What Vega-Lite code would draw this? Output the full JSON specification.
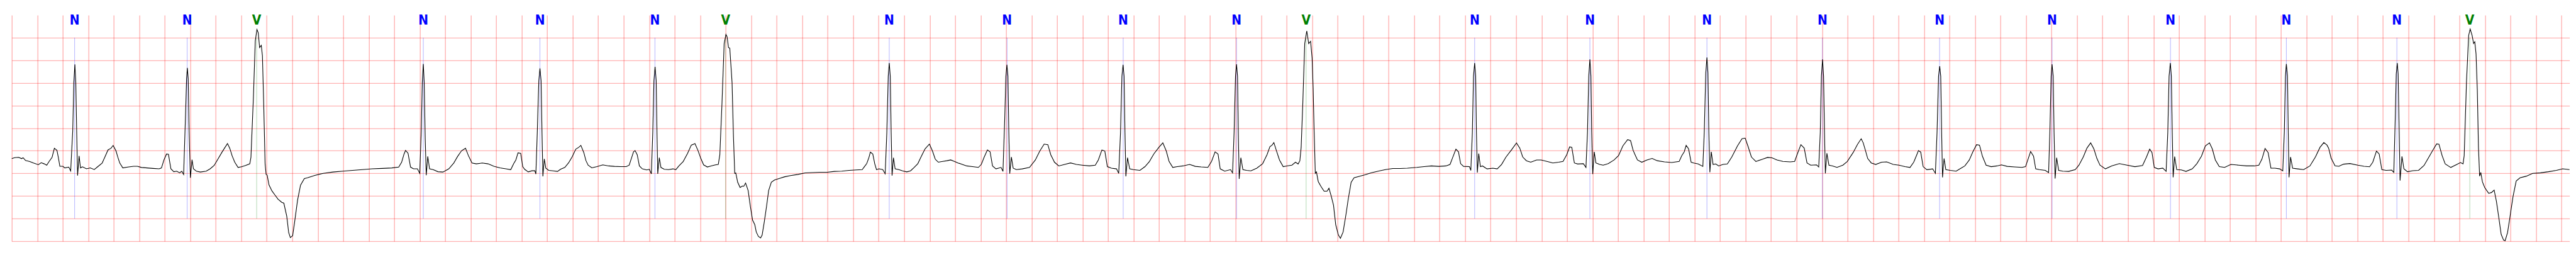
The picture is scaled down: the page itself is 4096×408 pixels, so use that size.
{
"$schema":"https://vega.github.io/schema/vega-lite/v6.json",
"width":4067,"height":359,
"autosize":"none",
"padding":{"left":18.7,"top":23.9,"right":10,"bottom":25},
"background":"white",
"config":{"view":{"stroke":null},"axis":{"title":null,"labels":false,"ticks":false,"domain":false,"grid":true,"gridColor":"#ff0000","gridOpacity":0.3,"gridWidth":1.4}},
"datasets":{
"beats":[{"t":0.493,"label":"N"},{"t":1.376,"label":"N"},{"t":1.921,"label":"V"},{"t":3.228,"label":"N"},{"t":4.143,"label":"N"},{"t":5.045,"label":"N"},{"t":5.599,"label":"V"},{"t":6.883,"label":"N"},{"t":7.807,"label":"N"},{"t":8.718,"label":"N"},{"t":9.607,"label":"N"},{"t":10.153,"label":"V"},{"t":11.475,"label":"N"},{"t":12.379,"label":"N"},{"t":13.297,"label":"N"},{"t":14.203,"label":"N"},{"t":15.122,"label":"N"},{"t":16.004,"label":"N"},{"t":16.933,"label":"N"},{"t":17.842,"label":"N"},{"t":18.709,"label":"N"},{"t":19.281,"label":"V"}],
"ecg":[
{"t":0,"v":0.326},{"t":0.023,"v":0.348},{"t":0.054,"v":0.355},{"t":0.077,"v":0.326},{"t":0.089,"v":0.344},{"t":0.108,"v":0.283},{"t":0.138,"v":0.264},{"t":0.17,"v":0.228},{"t":0.208,"v":0.192},{"t":0.231,"v":0.236},{"t":0.254,"v":0.21},{"t":0.274,"v":0.181},{"t":0.293,"v":0.264},{"t":0.316,"v":0.355},{"t":0.334,"v":0.554},{"t":0.354,"v":0.511},{"t":0.365,"v":0.355},{"t":0.377,"v":0.156},{"t":0.401,"v":0.156},{"t":0.416,"v":0.12},{"t":0.447,"v":0.138},{"t":0.462,"v":0.054},{"t":0.478,"v":0.935},{"t":0.487,"v":2.02},{"t":0.495,"v":2.41},{"t":0.502,"v":2.02},{"t":0.509,"v":0.935},{"t":0.516,"v":-0.05},{"t":0.528,"v":0.384},{"t":0.539,"v":0.12},{"t":0.554,"v":0.145},{"t":0.586,"v":0.1},{"t":0.616,"v":0.12},{"t":0.647,"v":0.083},{"t":0.678,"v":0.156},{"t":0.709,"v":0.228},{"t":0.732,"v":0.373},{"t":0.755,"v":0.518},{"t":0.778,"v":0.554},{"t":0.795,"v":0.616},{"t":0.817,"v":0.5},{"t":0.832,"v":0.355},{"t":0.847,"v":0.228},{"t":0.871,"v":0.12},{"t":0.909,"v":0.138},{"t":0.955,"v":0.156},{"t":0.986,"v":0.156},{"t":1.017,"v":0.13},{"t":1.063,"v":0.12},{"t":1.109,"v":0.109},{"t":1.156,"v":0.1},{"t":1.174,"v":0.12},{"t":1.194,"v":0.3},{"t":1.214,"v":0.428},{"t":1.229,"v":0.42},{"t":1.248,"v":0.1},{"t":1.271,"v":0.036},{"t":1.294,"v":0.047},{"t":1.317,"v":0.011},{"t":1.333,"v":0.047},{"t":1.348,"v":-0.025},{"t":1.363,"v":1.3},{"t":1.371,"v":2.09},{"t":1.377,"v":2.33},{"t":1.384,"v":2.09},{"t":1.391,"v":0.935},{"t":1.401,"v":-0.098},{"t":1.414,"v":0.3},{"t":1.425,"v":0.1},{"t":1.448,"v":0.047},{"t":1.479,"v":0.029},{"t":1.525,"v":0.047},{"t":1.556,"v":0.1},{"t":1.587,"v":0.174},{"t":1.618,"v":0.319},{"t":1.648,"v":0.464},{"t":1.672,"v":0.572},{"t":1.692,"v":0.659},{"t":1.71,"v":0.554},{"t":1.728,"v":0.391},{"t":1.749,"v":0.246},{"t":1.775,"v":0.13},{"t":1.802,"v":0.145},{"t":1.833,"v":0.174},{"t":1.867,"v":0.21},{"t":1.876,"v":0.355},{"t":1.895,"v":1.66},{"t":1.91,"v":2.93},{"t":1.923,"v":3.18},{"t":1.933,"v":3.11},{"t":1.944,"v":2.78},{"t":1.957,"v":2.83},{"t":1.966,"v":2.6},{"t":1.975,"v":1.66},{"t":1.987,"v":0.21},{"t":1.995,"v":-0.025},{"t":2.003,"v":-0.036},{"t":2.018,"v":-0.26},{"t":2.041,"v":-0.39},{"t":2.064,"v":-0.478},{"t":2.088,"v":-0.569},{"t":2.118,"v":-0.641},{"t":2.134,"v":-0.659},{"t":2.157,"v":-0.949},{"t":2.172,"v":-1.31},{"t":2.185,"v":-1.42},{"t":2.203,"v":-1.38},{"t":2.218,"v":-1.09},{"t":2.242,"v":-0.587},{"t":2.265,"v":-0.26},{"t":2.295,"v":-0.116},{"t":2.319,"v":-0.098},
{"t":2.381,"v":-0.043},{"t":2.442,"v":0},{"t":2.519,"v":0.029},{"t":2.596,"v":0.047},{"t":2.673,"v":0.065},{"t":2.75,"v":0.083},{"t":2.827,"v":0.1},{"t":2.904,"v":0.109},{"t":2.981,"v":0.12},{"t":3.035,"v":0.138},{"t":3.058,"v":0.246},{"t":3.077,"v":0.428},{"t":3.089,"v":0.507},{"t":3.108,"v":0.446},{"t":3.128,"v":0.138},{"t":3.151,"v":0.1},{"t":3.182,"v":0.1},{"t":3.2,"v":0},{"t":3.212,"v":0.935},{"t":3.22,"v":2.02},{"t":3.228,"v":2.42},{"t":3.235,"v":2.02},{"t":3.243,"v":0.754},{"t":3.251,"v":-0.043},{"t":3.263,"v":0.373},{"t":3.277,"v":0.1},{"t":3.305,"v":0.083},{"t":3.343,"v":0.036},{"t":3.382,"v":0.029},{"t":3.428,"v":0.1},{"t":3.467,"v":0.228},{"t":3.497,"v":0.373},{"t":3.528,"v":0.5},{"t":3.559,"v":0.554},{"t":3.582,"v":0.391},{"t":3.61,"v":0.228},{"t":3.644,"v":0.21},{"t":3.69,"v":0.228},{"t":3.736,"v":0.21},{"t":3.782,"v":0.156},{"t":3.829,"v":0.12},{"t":3.875,"v":0.1},
{"t":3.914,"v":0.082},{"t":3.937,"v":0.214},{"t":3.954,"v":0.296},{"t":3.971,"v":0.453},{"t":3.992,"v":0.443},{"t":4.008,"v":0.148},{"t":4.023,"v":0.089},{"t":4.051,"v":0.033},{"t":4.08,"v":0.056},{"t":4.103,"v":0.056},{"t":4.111,"v":-0.016},{"t":4.122,"v":0.903},{"t":4.134,"v":2.05},{"t":4.143,"v":2.32},{"t":4.152,"v":2.05},{"t":4.159,"v":0.903},{"t":4.166,"v":-0.066},{"t":4.177,"v":0.319},{"t":4.189,"v":0.115},{"t":4.212,"v":0.066},{"t":4.246,"v":0.056},{"t":4.281,"v":0.043},{"t":4.304,"v":0.089},{"t":4.338,"v":0.131},{"t":4.367,"v":0.23},{"t":4.395,"v":0.361},{"t":4.424,"v":0.535},{"t":4.447,"v":0.575},{"t":4.464,"v":0.618},{"t":4.487,"v":0.46},{"t":4.504,"v":0.279},{"t":4.521,"v":0.181},{"t":4.55,"v":0.122},{"t":4.59,"v":0.148},{"t":4.636,"v":0.187},{"t":4.682,"v":0.164},{"t":4.728,"v":0.154},{"t":4.774,"v":0.148},{"t":4.82,"v":0.148},{"t":4.843,"v":0.181},{"t":4.86,"v":0.329},{"t":4.877,"v":0.476},{"t":4.889,"v":0.503},{"t":4.906,"v":0.411},{"t":4.923,"v":0.164},{"t":4.946,"v":0.099},{"t":4.98,"v":0.076},{"t":5.001,"v":0.089},{"t":5.017,"v":-0.01},{"t":5.028,"v":0.903},{"t":5.037,"v":2.05},{"t":5.046,"v":2.355},{"t":5.055,"v":2.05},{"t":5.061,"v":0.903},{"t":5.067,"v":-0.01},{"t":5.079,"v":0.345},{"t":5.092,"v":0.131},{"t":5.118,"v":0.089},{"t":5.152,"v":0.082},{"t":5.187,"v":0.099},{"t":5.209,"v":0.082},{"t":5.233,"v":0.164},{"t":5.267,"v":0.263},{"t":5.301,"v":0.443},{"t":5.33,"v":0.624},{"t":5.359,"v":0.657},{"t":5.382,"v":0.509},{"t":5.405,"v":0.329},{"t":5.427,"v":0.187},{"t":5.456,"v":0.141},{"t":5.485,"v":0.164},{"t":5.519,"v":0.187},{"t":5.542,"v":0.197},{"t":5.554,"v":0.411},{"t":5.571,"v":1.56},{"t":5.588,"v":2.87},{"t":5.602,"v":3.07},{"t":5.611,"v":3.02},{"t":5.622,"v":2.78},{"t":5.632,"v":2.77},{"t":5.645,"v":2.22},{"t":5.65,"v":2.0},{"t":5.661,"v":0.8},{"t":5.671,"v":0},
{"t":5.679,"v":0.01},{"t":5.694,"v":-0.197},{"t":5.713,"v":-0.312},{"t":5.731,"v":-0.279},{"t":5.742,"v":-0.286},{"t":5.756,"v":-0.214},{"t":5.776,"v":-0.378},{"t":5.794,"v":-0.739},{"t":5.811,"v":-1.035},{"t":5.828,"v":-1.133},{"t":5.84,"v":-1.298},{"t":5.857,"v":-1.396},{"t":5.874,"v":-1.429},{"t":5.886,"v":-1.363},{"t":5.903,"v":-1.068},{"t":5.92,"v":-0.739},{"t":5.937,"v":-0.378},{"t":5.958,"v":-0.197},{"t":5.983,"v":-0.148},{"t":6.018,"v":-0.115},{"t":6.063,"v":-0.076},{"t":6.109,"v":-0.049},{"t":6.167,"v":-0.023},{"t":6.224,"v":0.01},{"t":6.281,"v":0.016},{"t":6.338,"v":0.023},{"t":6.396,"v":0.023},{"t":6.453,"v":0.043},{"t":6.51,"v":0.049},{"t":6.568,"v":0.066},{"t":6.625,"v":0.076},{"t":6.671,"v":0.082},{"t":6.688,"v":0.148},{"t":6.706,"v":0.214},{"t":6.723,"v":0.345},{"t":6.735,"v":0.47},{"t":6.754,"v":0.427},{"t":6.769,"v":0.214},{"t":6.783,"v":0.082},{"t":6.803,"v":0.099},{"t":6.832,"v":0.082},{"t":6.851,"v":-0.01},{"t":6.864,"v":0.903},{"t":6.875,"v":2.15},{"t":6.883,"v":2.44},{"t":6.891,"v":2.15},{"t":6.898,"v":0.903},{"t":6.905,"v":-0.049},{"t":6.916,"v":0.345},{"t":6.929,"v":0.099},{"t":6.958,"v":0.082},{"t":6.987,"v":0.056},{"t":7.021,"v":0.033},{"t":7.05,"v":0.056},{"t":7.078,"v":0.131},{"t":7.107,"v":0.214},{"t":7.135,"v":0.378},{"t":7.164,"v":0.542},{"t":7.198,"v":0.647},{"t":7.222,"v":0.493},{"t":7.244,"v":0.312},{"t":7.268,"v":0.246},{"t":7.302,"v":0.263},{"t":7.336,"v":0.279},{"t":7.365,"v":0.296},{"t":7.394,"v":0.263},{"t":7.422,"v":0.23},
{"t":7.456,"v":0.197},{"t":7.49,"v":0.164},{"t":7.536,"v":0.148},{"t":7.582,"v":0.131},{"t":7.605,"v":0.197},{"t":7.628,"v":0.361},{"t":7.653,"v":0.516},{"t":7.674,"v":0.476},{"t":7.693,"v":0.164},{"t":7.72,"v":0.099},{"t":7.76,"v":0.131},{"t":7.775,"v":0.043},{"t":7.789,"v":1.23},{"t":7.798,"v":2.15},{"t":7.806,"v":2.4},{"t":7.814,"v":2.15},{"t":7.821,"v":0.903},{"t":7.828,"v":-0.007},{"t":7.841,"v":0.361},{"t":7.855,"v":0.115},{"t":7.88,"v":0.082},{"t":7.926,"v":0.099},{"t":7.983,"v":0.131},{"t":8.029,"v":0.296},{"t":8.064,"v":0.493},{"t":8.098,"v":0.647},{"t":8.127,"v":0.634},{"t":8.15,"v":0.411},{"t":8.179,"v":0.246},{"t":8.213,"v":0.164},{"t":8.259,"v":0.197},{"t":8.305,"v":0.23},{"t":8.351,"v":0.197},{"t":8.396,"v":0.181},{"t":8.453,"v":0.164},{"t":8.499,"v":0.181},{"t":8.523,"v":0.296},{"t":8.551,"v":0.516},{"t":8.574,"v":0.493},{"t":8.594,"v":0.148},{"t":8.626,"v":0.115},{"t":8.666,"v":0.099},{"t":8.683,"v":0},{"t":8.697,"v":0.903},{"t":8.708,"v":2.15},{"t":8.717,"v":2.4},{"t":8.725,"v":2.15},{"t":8.732,"v":0.903},{"t":8.739,"v":-0.066},{"t":8.752,"v":0.345},{"t":8.769,"v":0.099},{"t":8.798,"v":0.082},{"t":8.849,"v":0.066},{"t":8.889,"v":0.148},{"t":8.924,"v":0.263},{"t":8.958,"v":0.427},{"t":8.998,"v":0.575},{"t":9.029,"v":0.673},{"t":9.056,"v":0.493},{"t":9.078,"v":0.263},{"t":9.107,"v":0.131},{"t":9.142,"v":0.148},{"t":9.187,"v":0.164},
{"t":9.239,"v":0.197},{"t":9.284,"v":0.154},{"t":9.33,"v":0.141},{"t":9.382,"v":0.131},{"t":9.411,"v":0.263},{"t":9.439,"v":0.476},{"t":9.462,"v":0.427},{"t":9.479,"v":0.099},{"t":9.514,"v":0.049},{"t":9.56,"v":0.082},{"t":9.576,"v":0.01},{"t":9.588,"v":0.903},{"t":9.599,"v":2.15},{"t":9.607,"v":2.41},{"t":9.615,"v":2.15},{"t":9.621,"v":0.903},{"t":9.628,"v":-0.122},{"t":9.641,"v":0.345},{"t":9.657,"v":0.082},{"t":9.686,"v":0.066},{"t":9.72,"v":0.056},{"t":9.766,"v":0.115},{"t":9.812,"v":0.214},{"t":9.846,"v":0.411},{"t":9.869,"v":0.591},{"t":9.886,"v":0.624},{"t":9.9,"v":0.68},{"t":9.921,"v":0.493},{"t":9.944,"v":0.296},{"t":9.973,"v":0.148},{"t":10.001,"v":0.164},{"t":10.041,"v":0.181},{"t":10.07,"v":0.246},{"t":10.09,"v":0.207},{"t":10.104,"v":0.279},{"t":10.114,"v":0.575},{"t":10.127,"v":1.56},{"t":10.142,"v":2.87},{"t":10.158,"v":3.15},{"t":10.173,"v":2.87},{"t":10.188,"v":2.92},{"t":10.2,"v":2.55},{"t":10.208,"v":1.89},{"t":10.216,"v":0.903},{"t":10.225,"v":0},{"t":10.234,"v":0.033},{"t":10.248,"v":-0.181},{"t":10.271,"v":-0.296},{"t":10.294,"v":-0.394},{"t":10.317,"v":-0.394},{"t":10.332,"v":-0.329},{"t":10.349,"v":-0.493},{"t":10.368,"v":-0.706},{"t":10.385,"v":-1.133},{"t":10.406,"v":-1.363},{"t":10.422,"v":-1.436},{"t":10.443,"v":-1.298},{"t":10.466,"v":-0.903},{"t":10.483,"v":-0.575},{"t":10.506,"v":-0.197},{"t":10.529,"v":-0.099},{"t":10.569,"v":-0.066},{"t":10.615,"v":-0.033},{"t":10.661,"v":0.01},{"t":10.718,"v":0.049},{"t":10.775,"v":0.082},{"t":10.833,"v":0.108},{"t":10.89,"v":0.108},{"t":10.947,"v":0.115},
{"t":11.021,"v":0.131},{"t":11.078,"v":0.148},{"t":11.136,"v":0.164},{"t":11.193,"v":0.154},{"t":11.25,"v":0.164},{"t":11.282,"v":0.197},{"t":11.302,"v":0.345},{"t":11.328,"v":0.535},{"t":11.348,"v":0.476},{"t":11.365,"v":0.214},{"t":11.388,"v":0.154},{"t":11.434,"v":0.148},{"t":11.445,"v":0.066},{"t":11.457,"v":0.903},{"t":11.466,"v":2.15},{"t":11.475,"v":2.44},{"t":11.483,"v":2.15},{"t":11.489,"v":0.903},{"t":11.496,"v":0.016},{"t":11.507,"v":0.437},{"t":11.52,"v":0.148},{"t":11.537,"v":0.164},{"t":11.572,"v":0.099},{"t":11.618,"v":0.115},{"t":11.652,"v":0.099},{"t":11.686,"v":0.197},{"t":11.721,"v":0.361},{"t":11.766,"v":0.526},{"t":11.803,"v":0.673},{"t":11.829,"v":0.558},{"t":11.852,"v":0.361},{"t":11.881,"v":0.279},{"t":11.915,"v":0.246},{"t":11.961,"v":0.296},{"t":11.996,"v":0.296},{"t":12.042,"v":0.263},{"t":12.088,"v":0.23},{"t":12.134,"v":0.246},{"t":12.168,"v":0.263},{"t":12.197,"v":0.411},{"t":12.22,"v":0.585},{"t":12.237,"v":0.575},{"t":12.257,"v":0.23},{"t":12.283,"v":0.207},{"t":12.328,"v":0.214},{"t":12.348,"v":0.131},{"t":12.36,"v":0.903},{"t":12.37,"v":2.15},{"t":12.379,"v":2.52},{"t":12.387,"v":2.15},{"t":12.393,"v":0.903},{"t":12.401,"v":-0.016},{"t":12.413,"v":0.476},{"t":12.426,"v":0.23},{"t":12.455,"v":0.197},{"t":12.483,"v":0.181},{"t":12.523,"v":0.214},{"t":12.569,"v":0.296},{"t":12.604,"v":0.394},{"t":12.638,"v":0.608},{"t":12.675,"v":0.746},{"t":12.698,"v":0.723},{"t":12.718,"v":0.509},{"t":12.735,"v":0.4},{"t":12.752,"v":0.296},
{"t":12.786,"v":0.246},{"t":12.827,"v":0.296},{"t":12.867,"v":0.329},{"t":12.907,"v":0.279},{"t":12.964,"v":0.253},{"t":13.021,"v":0.24},{"t":13.079,"v":0.263},{"t":13.1,"v":0.394},{"t":13.119,"v":0.476},{"t":13.134,"v":0.618},{"t":13.153,"v":0.542},{"t":13.173,"v":0.246},{"t":13.193,"v":0.23},{"t":13.228,"v":0.207},{"t":13.265,"v":0.154},{"t":13.276,"v":0.903},{"t":13.288,"v":2.22},{"t":13.297,"v":2.56},{"t":13.305,"v":2.22},{"t":13.312,"v":0.903},{"t":13.32,"v":0.023},{"t":13.331,"v":0.476},{"t":13.345,"v":0.197},{"t":13.366,"v":0.207},{"t":13.389,"v":0.164},{"t":13.423,"v":0.197},{"t":13.457,"v":0.207},{"t":13.492,"v":0.361},{"t":13.537,"v":0.608},{"t":13.572,"v":0.765},{"t":13.597,"v":0.779},{"t":13.618,"v":0.608},{"t":13.646,"v":0.361},{"t":13.681,"v":0.263},{"t":13.733,"v":0.312},{"t":13.773,"v":0.352},{"t":13.807,"v":0.345},{"t":13.847,"v":0.296},{"t":13.893,"v":0.263},{"t":13.951,"v":0.253},{"t":13.985,"v":0.263},{"t":14.006,"v":0.427},{"t":14.034,"v":0.634},{"t":14.06,"v":0.558},{"t":14.082,"v":0.23},{"t":14.111,"v":0.181},{"t":14.157,"v":0.187},{"t":14.174,"v":0.141},{"t":14.186,"v":0.903},{"t":14.195,"v":2.15},{"t":14.204,"v":2.52},{"t":14.212,"v":2.15},{"t":14.219,"v":0.903},{"t":14.226,"v":0},{"t":14.238,"v":0.443},{"t":14.254,"v":0.181},{"t":14.283,"v":0.164},{"t":14.317,"v":0.131},{"t":14.363,"v":0.181},{"t":14.398,"v":0.263},{"t":14.444,"v":0.46},{"t":14.478,"v":0.641},{"t":14.507,"v":0.765},
{"t":14.523,"v":0.673},{"t":14.54,"v":0.509},{"t":14.558,"v":0.329},{"t":14.586,"v":0.23},{"t":14.621,"v":0.197},{"t":14.667,"v":0.246},{"t":14.707,"v":0.253},{"t":14.758,"v":0.197},{"t":14.804,"v":0.181},{"t":14.85,"v":0.148},{"t":14.89,"v":0.131},{"t":14.919,"v":0.246},{"t":14.936,"v":0.361},{"t":14.956,"v":0.503},{"t":14.974,"v":0.47},{"t":14.993,"v":0.148},{"t":15.022,"v":0.082},{"t":15.068,"v":0.099},{"t":15.089,"v":0},{"t":15.102,"v":0.903},{"t":15.114,"v":2.15},{"t":15.123,"v":2.37},{"t":15.131,"v":2.15},{"t":15.138,"v":0.903},{"t":15.145,"v":-0.089},{"t":15.157,"v":0.329},{"t":15.171,"v":0.082},{"t":15.206,"v":0.066},{"t":15.252,"v":0.049},{"t":15.286,"v":0.108},{"t":15.32,"v":0.164},{"t":15.355,"v":0.296},{"t":15.383,"v":0.476},{"t":15.412,"v":0.634},{"t":15.435,"v":0.624},{"t":15.458,"v":0.378},{"t":15.487,"v":0.181},{"t":15.527,"v":0.148},{"t":15.572,"v":0.164},{"t":15.607,"v":0.187},{"t":15.653,"v":0.154},{"t":15.71,"v":0.141},{"t":15.768,"v":0.131},{"t":15.796,"v":0.148},{"t":15.814,"v":0.296},{"t":15.836,"v":0.483},{"t":15.859,"v":0.378},{"t":15.876,"v":0.099},{"t":15.905,"v":0.082},{"t":15.951,"v":0.066},{"t":15.977,"v":0.016},{"t":15.987,"v":0.903},{"t":15.997,"v":2.15},{"t":16.004,"v":2.41},{"t":16.013,"v":2.15},{"t":16.02,"v":0.903},{"t":16.028,"v":-0.115},{"t":16.04,"v":0.345},{"t":16.056,"v":0.066},{"t":16.088,"v":0.049},{"t":16.134,"v":0.043},{"t":16.186,"v":0.082},{"t":16.215,"v":0.181},{"t":16.249,"v":0.361},{"t":16.278,"v":0.558},{"t":16.307,"v":0.673},
{"t":16.332,"v":0.542},{"t":16.356,"v":0.329},{"t":16.38,"v":0.181},{"t":16.423,"v":0.099},{"t":16.471,"v":0.164},{"t":16.532,"v":0.214},{"t":16.593,"v":0.181},{"t":16.654,"v":0.148},{"t":16.714,"v":0.174},{"t":16.745,"v":0.361},{"t":16.77,"v":0.535},{"t":16.788,"v":0.46},{"t":16.806,"v":0.131},{"t":16.836,"v":0.099},{"t":16.873,"v":0.115},{"t":16.899,"v":0.043},{"t":16.912,"v":0.903},{"t":16.922,"v":2.15},{"t":16.932,"v":2.44},{"t":16.94,"v":2.15},{"t":16.947,"v":0.903},{"t":16.954,"v":-0.089},{"t":16.966,"v":0.371},{"t":16.982,"v":0.082},{"t":17.018,"v":0.076},{"t":17.055,"v":0.043},{"t":17.104,"v":0.099},{"t":17.14,"v":0.214},{"t":17.176,"v":0.378},{"t":17.207,"v":0.608},{"t":17.239,"v":0.673},{"t":17.261,"v":0.542},{"t":17.285,"v":0.296},{"t":17.316,"v":0.148},{"t":17.358,"v":0.131},{"t":17.407,"v":0.197},{"t":17.468,"v":0.181},{"t":17.529,"v":0.164},{"t":17.59,"v":0.164},{"t":17.626,"v":0.181},{"t":17.65,"v":0.312},{"t":17.675,"v":0.549},{"t":17.699,"v":0.46},{"t":17.721,"v":0.115},{"t":17.753,"v":0.115},{"t":17.79,"v":0.099},{"t":17.814,"v":0.056},{"t":17.826,"v":0.903},{"t":17.835,"v":2.15},{"t":17.842,"v":2.42},{"t":17.851,"v":2.15},{"t":17.857,"v":0.903},{"t":17.863,"v":-0.089},{"t":17.875,"v":0.361},{"t":17.891,"v":0.115},{"t":17.93,"v":0.099},{"t":17.978,"v":0.082},{"t":18.027,"v":0.164},{"t":18.07,"v":0.361},{"t":18.106,"v":0.575},{"t":18.136,"v":0.68},{"t":18.161,"v":0.624},
{"t":18.174,"v":0.554},{"t":18.193,"v":0.337},{"t":18.224,"v":0.167},{"t":18.254,"v":0.156},{"t":18.291,"v":0.203},{"t":18.341,"v":0.217},{"t":18.403,"v":0.181},{"t":18.452,"v":0.156},{"t":18.495,"v":0.145},{"t":18.52,"v":0.246},{"t":18.549,"v":0.493},{"t":18.57,"v":0.428},{"t":18.591,"v":0.083},{"t":18.625,"v":0.065},{"t":18.668,"v":0.072},{"t":18.685,"v":0.022},{"t":18.697,"v":1.3},{"t":18.704,"v":2.2},{"t":18.712,"v":2.44},{"t":18.719,"v":2.2},{"t":18.727,"v":0.935},{"t":18.734,"v":-0.159},{"t":18.749,"v":0.373},{"t":18.764,"v":0.1},{"t":18.792,"v":0.036},{"t":18.835,"v":0.058},{"t":18.879,"v":0.065},{"t":18.922,"v":0.174},{"t":18.959,"v":0.355},{"t":18.996,"v":0.536},{"t":19.021,"v":0.652},{"t":19.039,"v":0.645},{"t":19.064,"v":0.391},{"t":19.088,"v":0.21},{"t":19.132,"v":0.13},{"t":19.175,"v":0.192},{"t":19.208,"v":0.239},{"t":19.228,"v":0.21},{"t":19.237,"v":0.391},{"t":19.255,"v":2.02},{"t":19.272,"v":3.05},{"t":19.284,"v":3.19},{"t":19.299,"v":3.05},{"t":19.311,"v":2.87},{"t":19.32,"v":2.91},{"t":19.33,"v":2.64},{"t":19.34,"v":1.84},{"t":19.349,"v":0.572},{"t":19.358,"v":-0.062},{"t":19.367,"v":0.022},{"t":19.38,"v":-0.188},{"t":19.398,"v":-0.315},{"t":19.429,"v":-0.442},{"t":19.451,"v":-0.424},{"t":19.472,"v":-0.37},{"t":19.49,"v":-0.623},{"t":19.509,"v":-0.986},{"t":19.527,"v":-1.348},{"t":19.546,"v":-1.475},{"t":19.558,"v":-1.49},{"t":19.577,"v":-1.312},{"t":19.595,"v":-0.986},{"t":19.62,"v":-0.514},{"t":19.645,"v":-0.17},{"t":19.675,"v":-0.098},{"t":19.725,"v":-0.062},{"t":19.774,"v":0},{"t":19.836,"v":0.011},{"t":19.898,"v":0.036},{"t":19.96,"v":0.065},{"t":20.009,"v":0.1},{"t":20.063,"v":0.083}
]},
"encoding":{
 "x":{"field":"t","type":"quantitative","scale":{"domain":[0,20.063],"nice":false,"zero":false},
  "axis":{"values":[0,0.2,0.4,0.6,0.8,1,1.2,1.4,1.6,1.8,2,2.2,2.4,2.6,2.8,3,3.2,3.4,3.6,3.8,4,4.2,4.4,4.6,4.8,5,5.2,5.4,5.6,5.8,6,6.2,6.4,6.6,6.8,7,7.2,7.4,7.6,7.8,8,8.2,8.4,8.6,8.8,9,9.2,9.4,9.6,9.8,10,10.2,10.4,10.6,10.8,11,11.2,11.4,11.6,11.8,12,12.2,12.4,12.6,12.8,13,13.2,13.4,13.6,13.8,14,14.2,14.4,14.6,14.8,15,15.2,15.4,15.6,15.8,16,16.2,16.4,16.6,16.8,17,17.2,17.4,17.6,17.8,18,18.2,18.4,18.6,18.8,19,19.2,19.4,19.6,19.8,20]}}
},
"layer":[
{"data":{"name":"beats"},
 "mark":{"type":"rule","strokeWidth":0.6,"opacity":0.5},
 "encoding":{
  "y":{"datum":3.0,"type":"quantitative","scale":{"domain":[-1.5,3.5],"nice":false,"zero":false},
   "axis":{"values":[-1.5,-1,-0.5,0,0.5,1,1.5,2,2.5,3]}},
  "y2":{"datum":-1.0},
  "color":{"field":"label","type":"nominal","scale":{"domain":["N","V"],"range":["#0000ff","#008000"]},"legend":null}
 }},
{"data":{"name":"ecg"},
 "mark":{"type":"line","color":"black","strokeWidth":1.1},
 "encoding":{
  "y":{"field":"v","type":"quantitative","axis":{"values":[-1.5,-1,-0.5,0,0.5,1,1.5,2,2.5,3]}}
 }},
{"data":{"name":"beats"},
 "mark":{"type":"text","fontWeight":"bold","fontSize":21,"font":"Liberation Sans Narrow, DejaVu Sans Condensed, Arial Narrow, sans-serif","baseline":"alphabetic","align":"center"},
 "encoding":{
  "y":{"datum":3.288,"type":"quantitative","axis":{"values":[-1.5,-1,-0.5,0,0.5,1,1.5,2,2.5,3]}},
  "text":{"field":"label"},
  "color":{"field":"label","type":"nominal","scale":{"domain":["N","V"],"range":["#0000ff","#008000"]},"legend":null}
 }}
]
}
